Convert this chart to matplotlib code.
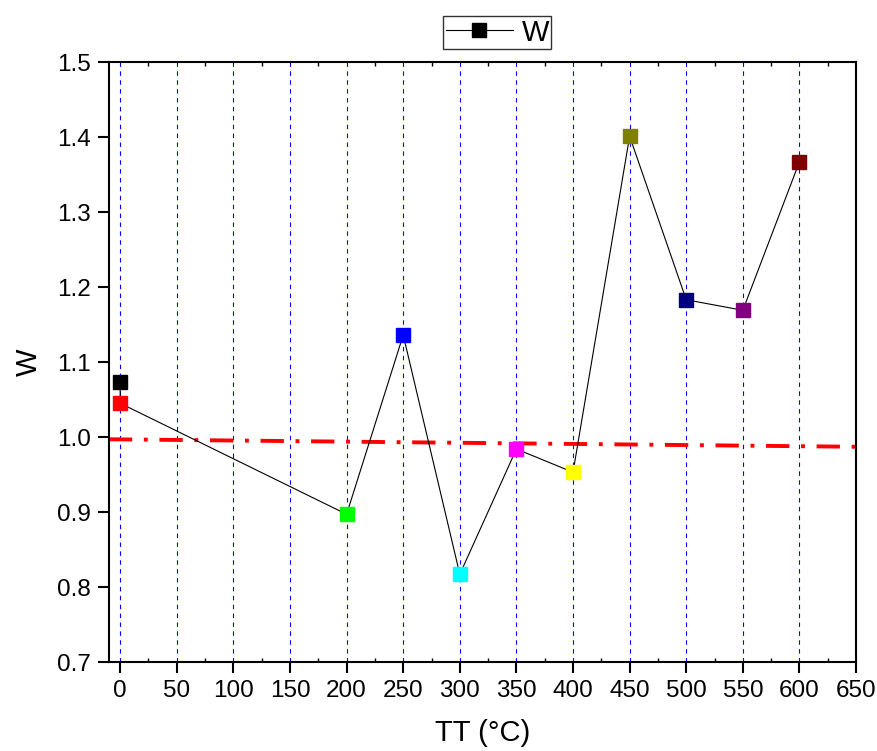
import matplotlib.pyplot as plt
from matplotlib.ticker import MultipleLocator

plt.rcParams['font.family'] = ['Liberation Sans', 'DejaVu Sans']

# データ
tt = [0, 0, 200, 250, 300, 350, 400, 450, 500, 550, 600]
w = [1.073, 1.045, 0.897, 1.136, 0.817, 0.984, 0.953, 1.401, 1.183, 1.169, 1.367]
point_colors = ['#000000', '#ff0000', '#00ff00', '#0000ff', '#00ffff', '#ff00ff',
                '#ffff00', '#808000', '#000080', '#800080', '#800000']
# 赤い一点鎖線 (ほぼ水平のトレンド)
trend_x = [-10, 650]
trend_y = [0.997, 0.987]

fig = plt.figure(figsize=(8.78, 7.51), dpi=100)
ax = fig.add_axes([0.124, 0.1185, 0.851, 0.7989])

# グリッド (x方向のみ, 青の破線)
for x in range(0, 650, 50):
    ax.axvline(x, color='#0000ff', lw=0.8, ls=(0, (4, 4)), zorder=0)

ax.plot(trend_x, trend_y, color='#ff0000', lw=2.8, ls=(0, (6, 3, 1, 3)), zorder=1)

ax.plot(tt, w, color='black', lw=0.8, zorder=2)
for x, y, c in zip(tt, w, point_colors):
    ax.plot(x, y, marker='s', ms=9.5, color=c, mec=c, ls='none', zorder=3)

# 凡例用のダミー
h, = ax.plot([], [], color='black', lw=0.8, marker='s', ms=9.5, mfc='black', mec='black')
leg = ax.legend([h], ['W'], loc='lower center', bbox_to_anchor=(0.52, 1.0), fontsize=21,
                frameon=True, fancybox=False, edgecolor='black', handlelength=2.3,
                borderpad=0.08, handletextpad=0.3, borderaxespad=0.45)
leg.get_frame().set_linewidth(1.0)

ax.set_xlim(-10, 650)
ax.set_ylim(0.7, 1.5)
ax.xaxis.set_major_locator(MultipleLocator(50))
ax.xaxis.set_minor_locator(MultipleLocator(25))
ax.yaxis.set_major_locator(MultipleLocator(0.1))
ax.yaxis.set_major_formatter(plt.FuncFormatter(lambda v, p: f'{v:.1f}'))

ax.tick_params(axis='both', which='major', direction='out', length=8, width=1.5, labelsize=17.5, pad=5)
ax.tick_params(axis='x', which='minor', direction='in', length=3, width=1, top=True)
ax.tick_params(axis='x', which='major', top=False)
for s in ax.spines.values():
    s.set_linewidth(1.5)

ax.set_xlabel('TT (°C)', fontsize=21, labelpad=12)
ax.set_ylabel('W', fontsize=21, labelpad=10)

fig.savefig('out.png', dpi=100)
